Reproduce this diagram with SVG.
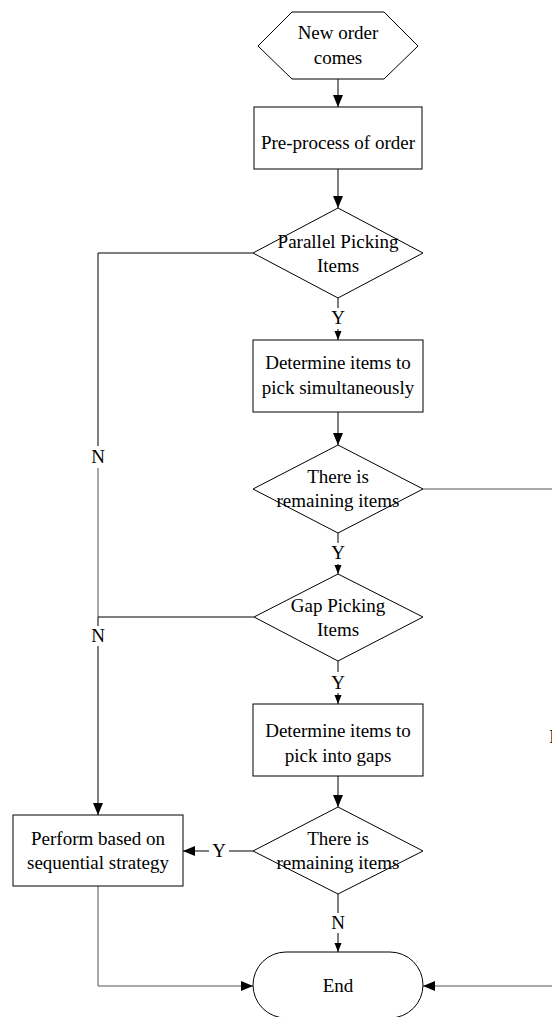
<svg xmlns="http://www.w3.org/2000/svg" width="552" height="1017" viewBox="0 0 552 1017">
<defs>
<marker id="ah" markerUnits="userSpaceOnUse" markerWidth="12" markerHeight="12" viewBox="0 0 12 12" refX="12" refY="6" orient="auto"><path d="M0,1 L12,6 L0,11 Z" fill="#000"/></marker>
<marker id="as" markerUnits="userSpaceOnUse" markerWidth="9" markerHeight="9" viewBox="0 0 9 9" refX="9" refY="4.5" orient="auto"><path d="M0,1 L9,4.5 L0,8 Z" fill="#000"/></marker>
</defs>
<style>
.s{fill:#fff;stroke:#000;stroke-width:1}
.t{font-family:"Liberation Serif","Times New Roman",serif;font-size:19px;fill:#000;text-anchor:middle}
.c{fill:none;stroke:#000;stroke-width:1}
.g{stroke:#555}
</style>
<g id="connectors">
<path class="c" d="M338,79 V107" marker-end="url(#ah)"/>
<path class="c" d="M338,169 V208" marker-end="url(#ah)"/>
<path class="c" d="M338,298 V308"/>
<path class="c" d="M338,329 V340" marker-end="url(#as)"/>
<path class="c" d="M338,412 V445" marker-end="url(#ah)"/>
<path class="c" d="M338,533 V543"/>
<path class="c" d="M338,564 V574" marker-end="url(#as)"/>
<path class="c" d="M338,661 V672"/>
<path class="c" d="M338,693 V704" marker-end="url(#as)"/>
<path class="c" d="M338,776 V807" marker-end="url(#ah)"/>
<path class="c" d="M338,894 V913"/>
<path class="c" d="M338,933 V952" marker-end="url(#as)"/>
<path class="c" d="M253,253 H98 V446"/>
<path class="c g" d="M98,468 V617"/>
<path class="c" d="M254,617 H98 V626"/>
<path class="c" d="M98,646 V815" marker-end="url(#ah)"/>
<path class="c" d="M253,851 H229"/>
<path class="c" d="M209,851 H183" marker-end="url(#ah)"/>
<path class="c g" d="M98,886 V986 H253" marker-end="url(#ah)"/>
<path class="c g" d="M423,489 H556 V728"/>
<path class="c g" d="M556,748 V986 H423" marker-end="url(#ah)"/>
<text class="t" x="338" y="324">Y</text>
<text class="t" x="338" y="559">Y</text>
<text class="t" x="338" y="689">Y</text>
<text class="t" x="338" y="929">N</text>
<text class="t" x="98" y="463">N</text>
<text class="t" x="98" y="642">N</text>
<text class="t" x="219" y="857">Y</text>
<text class="t" x="556" y="743">N</text>
</g>
<g id="start">
<polygon class="s" points="292,12 384,12 418,46 384,79 292,79 258,46"/>
<text class="t" x="338" y="39">New order</text>
<text class="t" x="338" y="64">comes</text>
</g>
<g id="preprocess">
<rect class="s" x="254" y="107" width="168" height="62"/>
<text class="t" x="338" y="149">Pre-process of order</text>
</g>
<g id="parallel">
<polygon class="s" points="338,208 423,253 338,298 253,253"/>
<text class="t" x="338" y="248">Parallel Picking</text>
<text class="t" x="338" y="272">Items</text>
</g>
<g id="determine-simul">
<rect class="s" x="253" y="340" width="170" height="72"/>
<text class="t" x="338" y="369">Determine items to</text>
<text class="t" x="338" y="394">pick simultaneously</text>
</g>
<g id="remaining1">
<polygon class="s" points="338,445 423,489 338,533 253,489"/>
<text class="t" x="338" y="483">There is</text>
<text class="t" x="338" y="507">remaining items</text>
</g>
<g id="gap">
<polygon class="s" points="338,574 423,617 338,661 254,617"/>
<text class="t" x="338" y="612">Gap Picking</text>
<text class="t" x="338" y="636">Items</text>
</g>
<g id="determine-gaps">
<rect class="s" x="253" y="704" width="170" height="72"/>
<text class="t" x="338" y="737">Determine items to</text>
<text class="t" x="338" y="762">pick into gaps</text>
</g>
<g id="remaining2">
<polygon class="s" points="338,807 423,851 338,894 253,851"/>
<text class="t" x="338" y="845">There is</text>
<text class="t" x="338" y="869">remaining items</text>
</g>
<g id="sequential">
<rect class="s" x="13" y="815" width="170" height="71"/>
<text class="t" x="98" y="845">Perform based on</text>
<text class="t" x="98" y="869">sequential strategy</text>
</g>
<g id="end">
<rect class="s" x="253" y="952" width="170" height="66" rx="33" ry="33"/>
<text class="t" x="338" y="992">End</text>
</g>
</svg>
